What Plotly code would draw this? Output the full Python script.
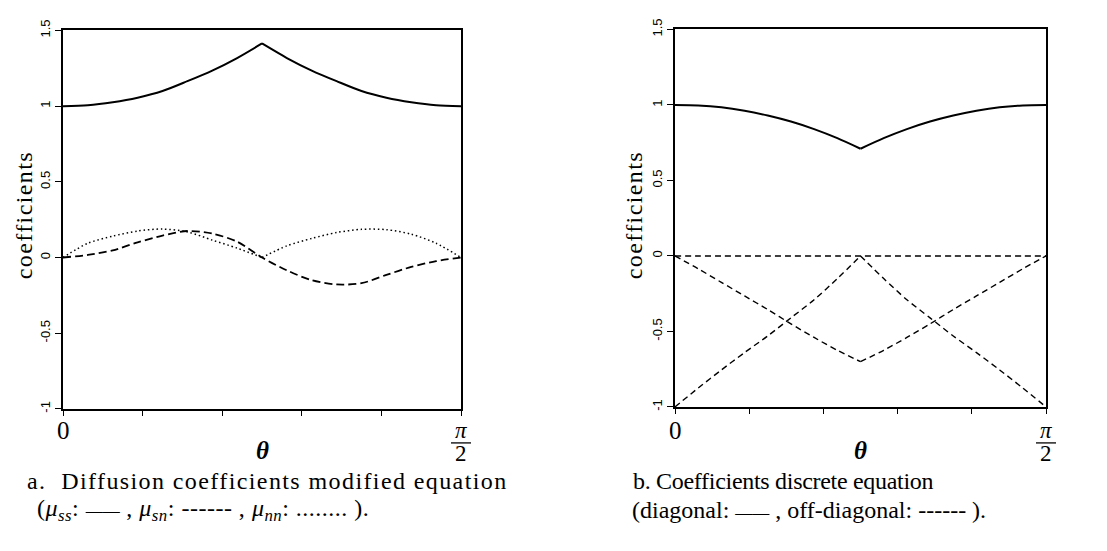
import plotly.graph_objects as go

W, H = 1107, 551

# ---------------- data ----------------
theta_deg = [0, 5.625, 11.25, 16.875, 22.5, 28.125, 33.75, 39.375, 45,
             50.625, 56.25, 61.875, 67.5, 73.125, 78.75, 84.375, 90]

# panel a: diffusion coefficients of the modified equation
mu_ss = [1.000, 1.006, 1.026, 1.056, 1.100, 1.165, 1.235, 1.318, 1.414,
         1.318, 1.235, 1.165, 1.100, 1.056, 1.026, 1.006, 1.000]
mu_sn = [0.000, 0.017, 0.047, 0.100, 0.145, 0.175, 0.158, 0.105, 0.000,
         -0.085, -0.150, -0.178, -0.170, -0.115, -0.062, -0.024, 0.000]
mu_nn = [0.000, 0.094, 0.141, 0.175, 0.188, 0.169, 0.115, 0.062, 0.000,
         0.077, 0.126, 0.165, 0.186, 0.184, 0.154, 0.094, 0.000]

# panel b: coefficients of the discrete equation
diag = [1.000, 0.997, 0.985, 0.962, 0.930, 0.890, 0.840, 0.780, 0.710,
        0.780, 0.840, 0.890, 0.930, 0.962, 0.985, 0.997, 1.000]
off_zero = [0, 0, 0, 0, 0, 0, 0, 0, 0, 0, 0, 0, 0, 0, 0, 0, 0]
off_a = [0.000, -0.085, -0.175, -0.265, -0.355, -0.450, -0.540, -0.625, -0.700,
         -0.625, -0.540, -0.450, -0.355, -0.265, -0.175, -0.085, 0.000]
off_b = [-1.000, -0.875, -0.755, -0.640, -0.530, -0.410, -0.290, -0.150, 0.000,
         -0.150, -0.290, -0.410, -0.530, -0.640, -0.755, -0.875, -1.000]

x_ticks = [0, 18, 36, 54, 72, 90]
y_ticks = [-1, -0.5, 0, 0.5, 1, 1.5]
y_ticktext = ["-1", "-0.5", "0", "0.5", "1", "1.5"]

MID = 8  # index of theta = pi/4, where several curves have a corner

# ---------------- styling ----------------
SERIF = "Liberation Serif, Times New Roman, serif"
SANS = "Liberation Sans, Arial, sans-serif"


def px(x, y):
    return x / W, 1 - y / H


fig = go.Figure()


def add_curve(y, xa, ya, line, kinked):
    if kinked:
        parts = [(theta_deg[:MID + 1], y[:MID + 1]), (theta_deg[MID:], y[MID:])]
    else:
        parts = [(theta_deg, y)]
    for xs, ys in parts:
        fig.add_trace(go.Scatter(x=xs, y=ys, mode="lines", xaxis=xa, yaxis=ya,
                                 line=dict(line, shape="spline", smoothing=0.8)))


# panel a
add_curve(mu_ss, "x", "y", dict(color="black", width=2), True)
add_curve(mu_sn, "x", "y", dict(color="black", width=1.8, dash="8px,4px"), False)
add_curve(mu_nn, "x", "y", dict(color="black", width=1.5, dash="1.5px,2.8px"), True)

# panel b
add_curve(diag, "x2", "y2", dict(color="black", width=2), True)
add_curve(off_zero, "x2", "y2", dict(color="black", width=1.4, dash="6px,4px"), False)
add_curve(off_a, "x2", "y2", dict(color="black", width=1.4, dash="6px,4px"), True)
add_curve(off_b, "x2", "y2", dict(color="black", width=1.4, dash="6px,4px"), True)

xa = dict(range=[0, 90], showline=True, mirror=True, linecolor="black", linewidth=1.5,
          ticks="outside", tickvals=x_ticks, ticklen=5, tickwidth=1.2, tickcolor="black",
          showticklabels=False, showgrid=False, zeroline=False)
ya = dict(range=[-1, 1.5], showline=True, mirror=True, linecolor="black", linewidth=1.5,
          ticks="outside", tickvals=y_ticks, ticktext=y_ticktext, ticklen=6, tickwidth=1.2,
          tickcolor="black", tickangle=-90, tickfont=dict(family=SANS, size=13, color="black"),
          showgrid=False, zeroline=False)

L_x0, L_x1, L_y0, L_y1 = 63, 461, 409, 20
R_x0, R_x1, R_y0, R_y1 = 675, 1046, 407, 19

fig.update_layout(
    width=W, height=H, margin=dict(l=0, r=0, t=0, b=0),
    paper_bgcolor="white", plot_bgcolor="white", showlegend=False,
    xaxis=dict(xa, domain=[L_x0 / W, L_x1 / W], anchor="y"),
    yaxis=dict(ya, domain=[1 - L_y0 / H, 1 - L_y1 / H], anchor="x"),
    xaxis2=dict(xa, domain=[R_x0 / W, R_x1 / W], anchor="y2"),
    yaxis2=dict(ya, domain=[1 - R_y0 / H, 1 - R_y1 / H], anchor="x2"),
)

ann = []
shapes = []


def text(x, y, t, size, xanchor="center", angle=0, italic=False):
    xp, yp = px(x, y)
    if italic:
        t = "<i>" + t + "</i>"
    ann.append(dict(x=xp, y=yp, xref="paper", yref="paper", text=t, showarrow=False,
                    xanchor=xanchor, yanchor="middle", textangle=angle,
                    font=dict(family=SERIF, size=size, color="black")))


def sp(t, ls):
    return '<span style="letter-spacing:%spx">%s</span>' % (ls, t)


RULE = '<span style="font-size:17px">——</span>'

for (x0, x1, ytitle_x, ymid) in ((L_x0, L_x1, 24, 210), (R_x0, R_x1, 634, 210)):
    # y axis title
    text(ytitle_x, ymid, sp("coefficients", 1.4), 24, angle=-90)
    # x tick labels 0 and pi/2
    text(x0, 431, "0", 25)
    text(x1, 431, "π", 23, italic=True)
    text(x1, 455, "2", 23)
    xa0, ya0 = px(x1 - 10, 444)
    xa1, _ = px(x1 + 10, 444)
    shapes.append(dict(type="line", xref="paper", yref="paper", x0=xa0, x1=xa1, y0=ya0, y1=ya0,
                       line=dict(color="black", width=1.3)))
    # theta
    text((x0 + x1) / 2, 452, "<b>θ</b>", 25, italic=True)

# captions
text(25, 483, sp("a.  Diffusion coefficients modified equation", 1.4), 24, xanchor="left")
text(35, 513,
     sp("(<i>μ<sub>ss</sub></i>: ", 0.5) + RULE +
     sp(" , <i>μ<sub>sn</sub></i>: ------ , <i>μ<sub>nn</sub></i>: ........ ).", 0.5),
     24, xanchor="left")
text(631, 483, sp("b. Coefficients discrete equation", -0.3), 24, xanchor="left")
text(630, 513, "(diagonal: " + RULE + " , off-diagonal: ------ ).", 24, xanchor="left")

fig.update_layout(annotations=ann, shapes=shapes)
fig.write_html("out.html")
